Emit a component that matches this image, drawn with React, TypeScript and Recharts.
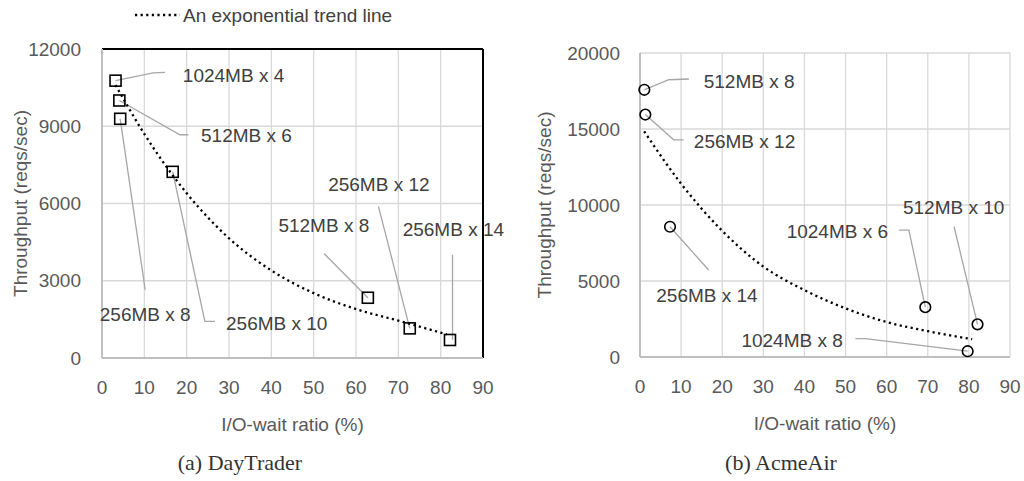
import {
  CartesianGrid,
  ComposedChart,
  Line,
  ReferenceLine,
  Scatter,
  XAxis,
  YAxis,
} from 'recharts';

type Pt = { x: number; y: number };
type Callout = { text: string; path: Pt[]; at: Pt; anchor: 'start' | 'middle' | 'end' };

const FONT = '"Liberation Sans", Arial, sans-serif';
const TEXT = '#595959';
const LABEL = '#404040';
const LEADER = '#a6a6a6';

const xTicks = [0, 10, 20, 30, 40, 50, 60, 70, 80, 90];
const dayTraderYTicks = [0, 3000, 6000, 9000, 12000];
const acmeAirYTicks = [0, 5000, 10000, 15000, 20000];

// measured points, I/O-wait % vs reqs/sec
const dayTraderPoints: Pt[] = [
  { x: 3.2, y: 10770 },
  { x: 4.1, y: 10000 },
  { x: 4.3, y: 9290 },
  { x: 16.7, y: 7230 },
  { x: 62.8, y: 2340 },
  { x: 72.7, y: 1150 },
  { x: 82.2, y: 700 },
];

const dayTraderTrend: Pt[] = [
  { x: 3.2, y: 10600 },
  { x: 10, y: 8700 },
  { x: 20, y: 6400 },
  { x: 30, y: 4650 },
  { x: 40, y: 3400 },
  { x: 50, y: 2520 },
  { x: 60, y: 1900 },
  { x: 70, y: 1450 },
  { x: 81.4, y: 920 },
];

const dayTraderCallouts: Callout[] = [
  { text: '1024MB x 4', path: [{ x: 3.2, y: 10770 }, { x: 12.1, y: 11070 }, { x: 14.9, y: 11090 }], at: { x: 19.1, y: 10960 }, anchor: 'start' },
  { text: '512MB x 6', path: [{ x: 4.1, y: 10000 }, { x: 18.4, y: 8670 }, { x: 20.4, y: 8670 }], at: { x: 23.4, y: 8630 }, anchor: 'start' },
  { text: '256MB x 8', path: [{ x: 4.3, y: 9290 }, { x: 10.2, y: 2650 }], at: { x: 10.2, y: 1680 }, anchor: 'middle' },
  { text: '256MB x 10', path: [{ x: 16.7, y: 7230 }, { x: 24.3, y: 1420 }, { x: 26.7, y: 1420 }], at: { x: 29.3, y: 1360 }, anchor: 'start' },
  { text: '512MB x 8', path: [{ x: 52.5, y: 4050 }, { x: 62.8, y: 2340 }], at: { x: 52.4, y: 5140 }, anchor: 'middle' },
  { text: '256MB x 12', path: [{ x: 65.3, y: 5890 }, { x: 72.7, y: 1150 }], at: { x: 65.4, y: 6730 }, anchor: 'middle' },
  { text: '256MB x 14', path: [{ x: 82.8, y: 4010 }, { x: 82.8, y: 710 }], at: { x: 83.0, y: 4980 }, anchor: 'middle' },
];

const acmeAirPoints: Pt[] = [
  { x: 1.05, y: 17580 },
  { x: 1.3, y: 15950 },
  { x: 7.3, y: 8570 },
  { x: 69.4, y: 3280 },
  { x: 82.1, y: 2150 },
  { x: 79.7, y: 380 },
];

const acmeAirTrend: Pt[] = [
  { x: 1, y: 14850 },
  { x: 10, y: 11400 },
  { x: 20, y: 8300 },
  { x: 30, y: 5950 },
  { x: 40, y: 4400 },
  { x: 50, y: 3200 },
  { x: 60, y: 2300 },
  { x: 70, y: 1700 },
  { x: 80.8, y: 1170 },
];

const acmeAirCallouts: Callout[] = [
  { text: '512MB x 8', path: [{ x: 1.05, y: 17580 }, { x: 7.0, y: 18240 }, { x: 11.9, y: 18290 }], at: { x: 15.5, y: 18130 }, anchor: 'start' },
  { text: '256MB x 12', path: [{ x: 1.3, y: 15950 }, { x: 8.2, y: 14290 }, { x: 10.6, y: 14290 }], at: { x: 13.1, y: 14170 }, anchor: 'start' },
  { text: '256MB x 14', path: [{ x: 7.3, y: 8570 }, { x: 16.7, y: 5720 }], at: { x: 16.3, y: 4070 }, anchor: 'middle' },
  { text: '1024MB x 6', path: [{ x: 63.0, y: 8350 }, { x: 65.4, y: 8350 }, { x: 69.4, y: 3280 }], at: { x: 48.0, y: 8290 }, anchor: 'middle' },
  { text: '512MB x 10', path: [{ x: 76.4, y: 8570 }, { x: 82.1, y: 2150 }], at: { x: 76.3, y: 9850 }, anchor: 'middle' },
  { text: '1024MB x 8', path: [{ x: 52.4, y: 1210 }, { x: 54.8, y: 1210 }, { x: 79.7, y: 380 }], at: { x: 37.0, y: 1100 }, anchor: 'middle' },
];

const tickStyle = { fill: TEXT, fontSize: 19, fontFamily: FONT };

function Square(props: any) {
  const { cx, cy } = props;
  return <rect x={cx - 5.5} y={cy - 5.5} width={11} height={11} fill="none" stroke="#000" strokeWidth={1.6} />;
}

function Ring(props: any) {
  const { cx, cy } = props;
  return <circle cx={cx} cy={cy} r={5.3} fill="none" stroke="#000" strokeWidth={1.6} />;
}

function CalloutText(props: any) {
  const { cx, cy, payload } = props;
  return (
    <text x={cx} y={cy} dy="0.35em" textAnchor={payload.anchor} fill={LABEL} fontSize={19} fontFamily={FONT}>
      {payload.text}
    </text>
  );
}

type PanelProps = {
  points: Pt[];
  trend: Pt[];
  callouts: Callout[];
  yTicks: number[];
  marker: 'square' | 'circle';
  framed: boolean;
  margin: { top: number; right: number; bottom: number; left: number };
  yAxisWidth: number;
  tickGap: number;
};

function Panel({ points, trend, callouts, yTicks, marker, framed, margin, yAxisWidth, tickGap }: PanelProps) {
  const yMax = yTicks[yTicks.length - 1];
  const labels = callouts.map((c) => ({ x: c.at.x, y: c.at.y, text: c.text, anchor: c.anchor }));
  return (
    <ComposedChart width={512} height={481} margin={margin}>
      <CartesianGrid stroke="#d9d9d9" strokeWidth={1.3} />
      <XAxis
        type="number"
        dataKey="x"
        domain={[0, 90]}
        ticks={xTicks}
        interval={0}
        axisLine={{ stroke: '#bfbfbf', strokeWidth: 2 }}
        tickLine={false}
        tick={tickStyle}
        tickMargin={17}
        height={55}
        label={{ value: 'I/O-wait ratio (%)', position: 'bottom', offset: 5, fill: TEXT, fontSize: 19, fontFamily: FONT }}
      />
      <YAxis
        type="number"
        dataKey="y"
        domain={[0, yMax]}
        ticks={yTicks}
        interval={0}
        axisLine={{ stroke: '#bfbfbf', strokeWidth: 2 }}
        tickLine={false}
        tick={tickStyle}
        tickMargin={tickGap}
        width={yAxisWidth}
        label={{
          value: 'Throughput (reqs/sec)',
          angle: -90,
          position: 'insideLeft',
          offset: 0,
          fill: TEXT,
          fontSize: 19,
          fontFamily: FONT,
          style: { textAnchor: 'middle', fill: TEXT },
        }}
      />
      {framed && <ReferenceLine y={yMax} stroke="#000" strokeWidth={2} />}
      {framed && <ReferenceLine x={90} stroke="#000" strokeWidth={2} />}
      {callouts.map((c) => (
        <Line
          key={c.text}
          data={c.path}
          dataKey="y"
          type="linear"
          stroke={LEADER}
          strokeWidth={1.3}
          dot={false}
          activeDot={false}
          isAnimationActive={false}
        />
      ))}
      <Line
        data={trend}
        dataKey="y"
        type="monotone"
        stroke="#000"
        strokeWidth={2.3}
        strokeDasharray="2.2 3.4"
        dot={false}
        activeDot={false}
        isAnimationActive={false}
      />
      <Scatter data={points} shape={marker === 'square' ? Square : Ring} isAnimationActive={false} />
      <Scatter data={labels} shape={CalloutText} isAnimationActive={false} />
    </ComposedChart>
  );
}

export default function App() {
  return (
    <div style={{ position: 'absolute', left: 0, top: 0, width: 1024, height: 481, background: '#fff' }}>
      <div style={{ position: 'absolute', left: 0, top: 0 }}>
        <Panel
          points={dayTraderPoints}
          trend={dayTraderTrend}
          callouts={dayTraderCallouts}
          yTicks={dayTraderYTicks}
          marker="square"
          framed
          margin={{ top: 49, right: 29, bottom: 68, left: 20 }}
          yAxisWidth={82}
          tickGap={15}
        />
      </div>
      <div style={{ position: 'absolute', left: 512, top: 0 }}>
        <Panel
          points={acmeAirPoints}
          trend={acmeAirTrend}
          callouts={acmeAirCallouts}
          yTicks={acmeAirYTicks}
          marker="circle"
          framed={false}
          margin={{ top: 53, right: 14, bottom: 69, left: 32 }}
          yAxisWidth={96}
          tickGap={14}
        />
      </div>
      <svg width={1024} height={481} style={{ position: 'absolute', left: 0, top: 0, pointerEvents: 'none' }}>
        <line x1={135} y1={15} x2={180} y2={15} stroke="#000" strokeWidth={2.3} strokeDasharray="2.2 3.4" />
        <text x={183} y={15} dy="0.35em" fill={LABEL} fontSize={19} fontFamily={FONT}>
          An exponential trend line
        </text>
        <text x={240} y={470} textAnchor="middle" fill="#333" fontSize={22} fontFamily='"Liberation Serif", "Times New Roman", serif'>
          (a) DayTrader
        </text>
        <text x={781} y={470} textAnchor="middle" fill="#333" fontSize={22} fontFamily='"Liberation Serif", "Times New Roman", serif'>
          (b) AcmeAir
        </text>
      </svg>
    </div>
  );
}
